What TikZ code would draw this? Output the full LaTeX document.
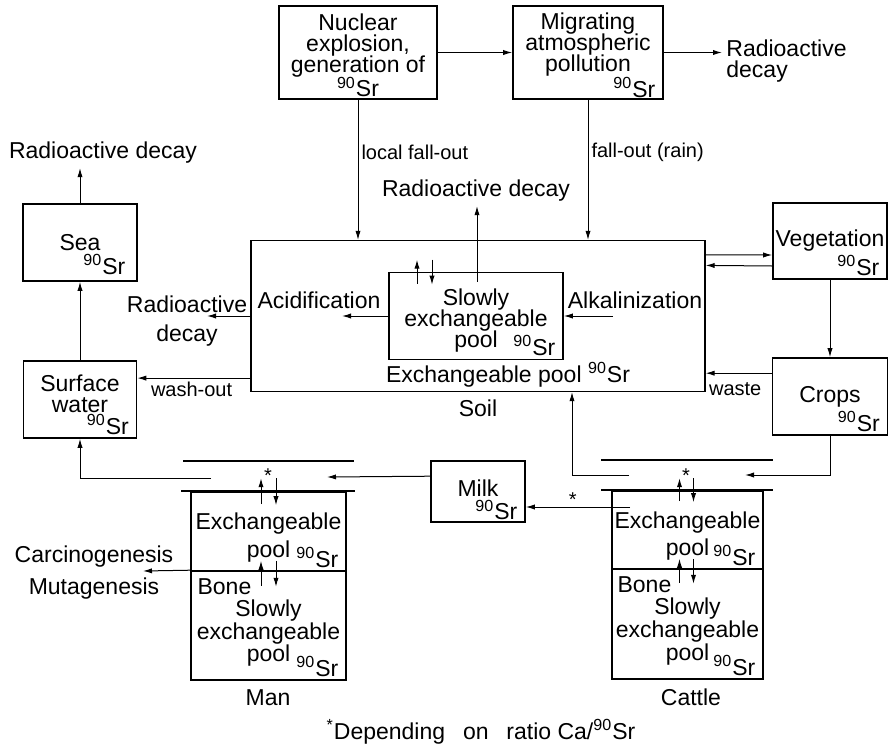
\documentclass[tikz,border=0pt]{standalone}
\usepackage{fontspec}
\setmainfont{Liberation Sans}
\usetikzlibrary{arrows.meta,calc}

\newcommand{\srnine}{\textsuperscript{90}Sr}
\newcommand{\mainsize}{\fontsize{11.5}{10.5}\selectfont\lineskiplimit=-10pt}
\newcommand{\smallsize}{\fontsize{10}{12}\selectfont}

\begin{document}
\begin{tikzpicture}[x=0.5pt, y=-0.5pt, font=\mainsize,
        compart/.style = {draw, line width=0.8pt, inner sep=0pt, align=center},
        txt/.style = {inner sep=2pt, align=center},
        lbl/.style = {inner sep=1.5pt, font=\smallsize},
        iso/.style = {anchor=south east, inner xsep=4pt, inner ysep=2pt},
        flow/.style = {-{Latex[length=4.5pt,width=2.6pt]}, line width=0.5pt},
        bar/.style = {line width=0.8pt}]

    \useasboundingbox (0,0) rectangle (891,745);

    % Source of the fall-out
    \node[compart, minimum width=79pt, minimum height=46.5pt] (nuc) at (358,52.5)
        {\mbox{}\\[1pt]Nuclear\\explosion,\\generation of\\[1.5pt]\srnine};
    \node[compart, minimum width=75pt, minimum height=46.5pt] (mig) at (588,52.5)
        {Migrating\\atmospheric\\pollution\\[-0.6pt]\mbox{}};
    \node[iso, inner ysep=0.8pt] (migsr) at (mig.south east) {\srnine};
    \node[txt, anchor=west, align=left] (decr) at (722,61) {Radioactive\\decay};

    \draw[flow] (nuc) -- (mig);
    \draw[flow] (mig.east) -- (mig.east -| decr.west);

    % Soil
    \node[compart, line width=0.6pt, minimum width=227pt, minimum height=75.5pt] (soil) at (478,316) {};
    \node[compart, minimum width=87pt, minimum height=43.5pt] (slow) at (476,316)
        {\mbox{}\\[2.7pt]Slowly\\exchangeable\\pool};
    \node[iso] (slowsr) at (slow.south east) {\srnine};
    \node[txt] (soilpool) at (508,375) {Exchangeable pool \srnine};
    \node[txt] (soillbl) at (478,408) {Soil};
    \node[txt] (acid) at (319,300) {Acidification};
    \node[txt] (alka) at (635,300) {Alkalinization};
    \node[txt] (decc) at (476,191) {Radioactive decay};

    \draw[flow] (nuc.south) -- (nuc.south |- soil.north)
        node[lbl, pos=0.376, right] (localfo) {local fall-out};
    \draw[flow] (mig.south) -- (mig.south |- soil.north)
        node[lbl, pos=0.376, right] (rainfo) {fall-out (rain)};
    \draw[flow] ($(slow.north)+(1,10)$) -- ($(decc.south)+(1,0)$);
    \draw[flow] ($(slow.north)+(-59,12)$) -- ++(0,-24);
    \draw[flow] ($(slow.north)+(-44,-12)$) -- ++(0,25);

    \coordinate (acidend) at (342,316);
    \coordinate (alkastart) at (613,316);
    \draw[flow] (slow.west) -- (acidend);
    \draw[flow] (alkastart) -- (slow.east);

    % Water
    \node[compart, minimum width=57pt, minimum height=38.5pt] (sea) at (80,242.5) {Sea};
    \node[iso, inner xsep=6pt, inner ysep=3.5pt] (seasr) at (sea.south east) {\srnine};
    \node[txt] (decs) at (103,153) {Radioactive decay};
    \draw[flow] (sea.north) -- (sea.north |- decs.south);

    \node[compart, minimum width=56.5pt, minimum height=38.5pt] (surf) at (80,399.5)
        {Surface\\water\\[-4.7pt]\mbox{}};
    \node[iso] (surfsr) at (surf.south east) {\srnine};
    \draw[flow] (surf) -- (sea);

    \node[txt] (decl) at (187,321) {Radioactive\\[4pt]decay};
    \coordinate (declend) at (207,316);
    \draw[flow] (soil.west) -- (declend);

    \coordinate (washstart) at ($(soil.south west)+(0,-14)$);
    \draw[flow] (washstart) -- (washstart -| surf.east)
        node[lbl, pos=0.52, below] (washlbl) {wash-out};

    % Plants
    \node[compart, minimum width=57pt, minimum height=38pt] (veg) at (830,241) {Vegetation};
    \node[iso] (vegsr) at (veg.south east) {\srnine};
    \draw[flow] ($(soil.north east)+(0,15)$) -- ($(veg.west)+(0,14)$);
    \draw[flow] ($(veg.west)+(0,25)$) -- ($(soil.north east)+(0,25.5)$);

    \node[compart, minimum width=57.5pt, minimum height=38.5pt] (crops) at (830,396.5) {Crops};
    \node[iso] (cropssr) at (crops.south east) {\srnine};
    \draw[flow] (veg) -- (crops);

    \coordinate (wastestart) at ($(crops.north west)+(0,16)$);
    \draw[flow] (wastestart) -- (wastestart -| soil.east)
        node[lbl, pos=1, below right, yshift=-3pt] (wastelbl) {waste};

    % Cattle
    \node[compart, minimum width=75.5pt, minimum height=39pt] (catex) at (687.5,530)
        {\mbox{}\\[3.7pt]Exchangeable\\[3.3pt]pool};
    \node[iso] (catexsr) at (catex.south east) {\srnine};
    \node[compart, minimum width=75.5pt, minimum height=55pt] (catbone) at (687.5,624)
        {\mbox{}\\[5.3pt]Slowly\\[0.8pt]exchangeable\\[0.8pt]pool};
    \node[iso] (catbonesr) at (catbone.south east) {\srnine};
    \node[txt, anchor=north west, inner xsep=3pt, inner ysep=4pt] (catbonelbl)
        at (catbone.north west) {Bone};
    \node[txt] (catlbl) at (691,697) {Cattle};

    \draw[bar] ($(catex.north west)+(-10,0)$) -- ($(catex.north east)+(9,0)$);
    \draw[bar] ($(catex.north west)+(-10,-30)$) -- ($(catex.north east)+(9,-30)$);
    \node[lbl] (catstar) at (686,476) {*};
    \draw[flow] ($(catex.north)+(-8,11)$) -- ++(0,-23);
    \draw[flow] ($(catex.north)+(6,-12)$) -- ++(0,24);
    \draw[flow] ($(catex.south)+(-8,13)$) -- ++(0,-24);
    \draw[flow] ($(catex.south)+(6,-11)$) -- ++(0,25);

    \coordinate (catin) at (745,475);
    \coordinate (catout) at (629,475);
    \draw[flow] (crops.south) |- (catin);
    \draw[flow] (catout) -| ($(soil.south)+(94,0)$);

    % Milk
    \node[compart, minimum width=47pt, minimum height=30.5pt] (milk) at (478,491.5)
        {Milk\\[-7pt]\mbox{}};
    \node[iso, inner ysep=1.2pt] (milksr) at (milk.south east) {\srnine};
    \coordinate (milkout) at (630,507);
    \draw[flow] (milkout) -- (milkout -| milk.east)
        node[lbl, pos=0.55, above, inner sep=0pt] (milkstar) {*};

    % Man
    \node[compart, minimum width=77.5pt, minimum height=39.5pt] (manex) at (268.5,531.5)
        {\mbox{}\\[3.7pt]Exchangeable\\[3.3pt]pool};
    \node[iso] (manexsr) at (manex.south east) {\srnine};
    \node[compart, minimum width=77.5pt, minimum height=54.5pt] (manbone) at (268.5,625.5)
        {\mbox{}\\[5.7pt]Slowly\\[0.8pt]exchangeable\\[0.8pt]pool};
    \node[iso] (manbonesr) at (manbone.south east) {\srnine};
    \node[txt, anchor=north west, inner xsep=3.5pt, inner ysep=4.2pt] (manbonelbl)
        at (manbone.north west) {Bone};
    \node[txt] (manlbl) at (268,698) {Man};

    \draw[bar] ($(manex.north west)+(-9,0)$) -- ($(manex.north east)+(8,0)$);
    \draw[bar] ($(manex.north west)+(-7,-30)$) -- ($(manex.north east)+(7,-30)$);
    \node[lbl] (manstar) at (268,476) {*};
    \draw[flow] ($(manex.north)+(-7.5,13)$) -- ++(0,-26);
    \draw[flow] ($(manex.north)+(7.5,-13)$) -- ++(0,27);
    \draw[flow] ($(manex.south)+(-7.5,14)$) -- ++(0,-25);
    \draw[flow] ($(manex.south)+(7.5,-11)$) -- ++(0,26);

    \coordinate (manin) at (327,477);
    \coordinate (manout) at (211,478);
    \draw[flow] ($(milk.north west)+(0,16)$) -- (manin);
    \draw[flow] (manout) -| (surf.south);

    \node[txt] (carc) at (94,573) {Carcinogenesis\\[5.5pt]Mutagenesis};
    \coordinate (carcend) at (143,571);
    \draw[flow] (manbone.north west) -- (carcend);

    % Footnote
    \node[txt] (note) at (481,732)
        {\textsuperscript{*}Depending\hspace{0.5em} on\hspace{0.5em} ratio Ca/\textsuperscript{90}Sr};

\end{tikzpicture}
\end{document}
